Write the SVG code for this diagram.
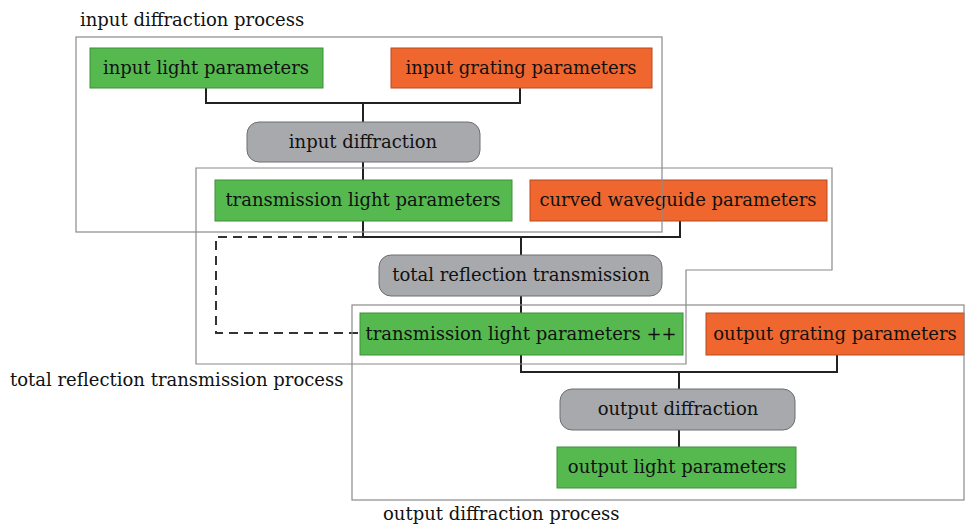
<svg xmlns="http://www.w3.org/2000/svg" width="966" height="524" viewBox="0 0 966 524">
<style>
text{font-family:"DejaVu Serif","Liberation Serif",serif;font-size:18px;fill:#111}
.n text{text-anchor:middle}
.g{fill:#55b94f;stroke:#3e8f3a;stroke-width:1}
.o{fill:#ef672e;stroke:#b94a1f;stroke-width:1}
.p{fill:#a8a9ac;stroke:#6d6e71;stroke-width:1}
.c{fill:none;stroke:#222;stroke-width:2}
.d{fill:none;stroke:#333;stroke-width:2;stroke-dasharray:9,6}
.f{fill:none;stroke:#8a8a8a;stroke-width:1.2}
</style>
<rect width="966" height="524" fill="#fff"/>
<g id="connectors">
<path class="c" d="M206,88V103H520V88M363,103V122M363,162V180"/>
<path class="c" d="M363,221V237H680V221M521,237V255M521,296V313"/>
<path class="c" d="M521,355V372H837V355M679,372V389M679,430V447"/>
<path class="d" d="M362,237H216V333H360"/>
</g>
<g id="n1" class="n"><rect class="g" x="90" y="48" width="233" height="40"/><text x="206" y="74">input light parameters</text></g>
<g id="n2" class="n"><rect class="o" x="391" y="48" width="261" height="40"/><text x="521" y="74">input grating parameters</text></g>
<g id="n3" class="n"><rect class="p" x="247" y="122" width="233" height="40" rx="12"/><text x="363" y="148">input diffraction</text></g>
<g id="n4" class="n"><rect class="g" x="215" y="180" width="297" height="41"/><text x="363" y="206">transmission light parameters</text></g>
<g id="n5" class="n"><rect class="o" x="530" y="180" width="297" height="41"/><text x="678" y="206">curved waveguide parameters</text></g>
<g id="n6" class="n"><rect class="p" x="379" y="255" width="283" height="41" rx="12"/><text x="521" y="281">total reflection transmission</text></g>
<g id="n7" class="n"><rect class="g" x="360" y="313" width="323" height="42"/><text x="521" y="340">transmission light parameters ++</text></g>
<g id="n8" class="n"><rect class="o" x="706" y="313" width="258" height="42"/><text x="835" y="340">output grating parameters</text></g>
<g id="n9" class="n"><rect class="p" x="560" y="389" width="235" height="41" rx="12"/><text x="678" y="415">output diffraction</text></g>
<g id="n10" class="n"><rect class="g" x="557" y="447" width="239" height="41"/><text x="677" y="473">output light parameters</text></g>
<g id="groups">
<rect class="f" x="76" y="37" width="586" height="195"/>
<path class="f" d="M196,168H832V270H686V364H196Z"/>
<rect class="f" x="352" y="305" width="612" height="195"/>
<text x="80" y="26">input diffraction process</text>
<text x="10" y="386">total reflection transmission process</text>
<text x="383" y="520">output diffraction process</text>
</g>
</svg>
